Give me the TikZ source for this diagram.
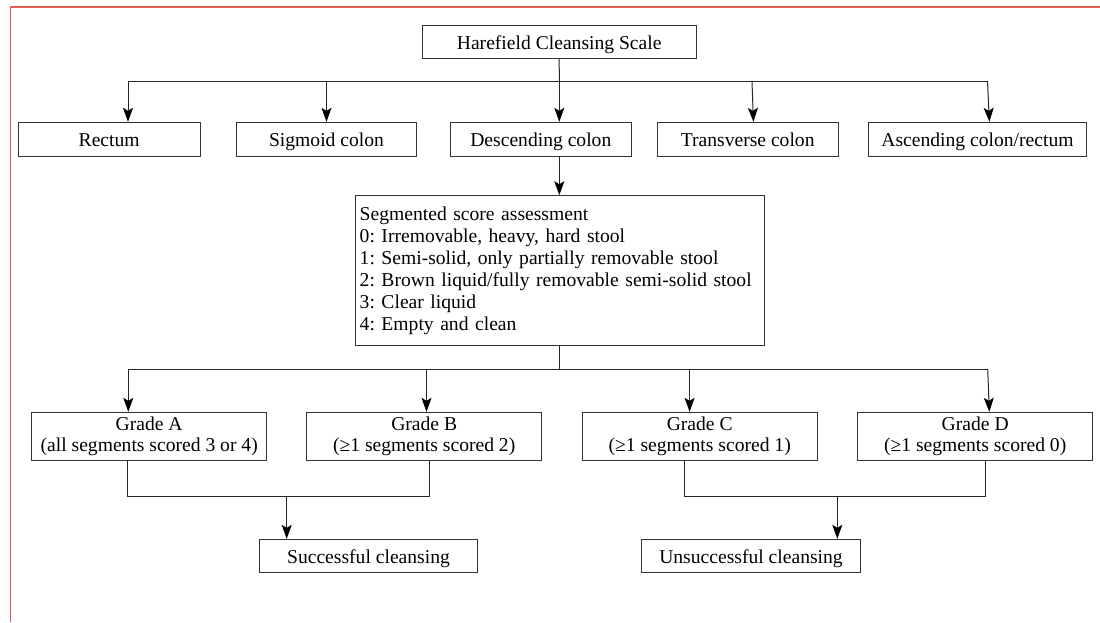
\documentclass[tikz,border=0pt]{standalone}
\usepackage{fontspec}
\setmainfont{Liberation Serif}
\usetikzlibrary{arrows.meta}

\definecolor{framered}{RGB}{228,90,84}

\begin{document}
\frenchspacing
\begin{tikzpicture}[x=0.75pt, y=-0.75pt,
        box/.style={draw=black!80, line width=0.75pt, fill=white, inner sep=0pt,
            minimum height=25.5pt, align=center, font=\fontsize{14.7}{16}\selectfont},
        single/.style={box, text height=14.5pt, text depth=3pt},
        wire/.style={draw=black!85, line width=0.75pt},
        arr/.style={wire, -{Stealth[length=10.5pt, width=7.5pt, inset=2.3pt, black]}}]
        \useasboundingbox (0,0) rectangle (1100,622);

        % Page frame
        \draw[framered, line width=0.8pt] (10.3,622) -- (10.3,7) -- (1100,7);

        % Title
        \node at (559.2, 41.8) (title) [single, minimum width=205.3pt, minimum height=24.75pt] {Harefield Cleansing Scale};

        % Colon segments
        \node at (109.2, 139.3) (rectum) [single, minimum width=136.3pt] {Rectum};
        \node at (326.5, 139.3) (sigmoid) [single, minimum width=134.3pt] {Sigmoid colon};
        \node at (540.8, 139.3) (descending) [single, minimum width=135.8pt] {Descending colon};
        \node at (747.7, 139.3) (transverse) [single, minimum width=136pt] {Transverse colon};
        \node at (977.5, 139.3) (ascending) [single, minimum width=163.8pt] {Ascending colon/rectum};

        % Score box
        \node at (559.7, 270.7) (segment) [box, align=left, text width=300pt, inner xsep=3.5pt, minimum height=112.5pt,
            font=\fontsize{14.7}{16.5}\selectfont]
            {Segmented score assessment\\
             0: Irremovable, heavy, hard stool\\
             1: Semi-solid, only partially removable stool\\
             2: Brown liquid/fully removable semi-solid stool\\
             3: Clear liquid\\
             4: Empty and clean};

        % Grades
        \node at (149.2, 436.3) (gradeA) [box, minimum width=176.3pt, minimum height=36pt] {Grade A\\(all segments scored 3 or 4)};
        \node at (424.2, 436.3) (gradeB) [box, minimum width=176.3pt, minimum height=36pt] {Grade B\\(≥1 segments scored 2)};
        \node at (699.7, 436.3) (gradeC) [box, minimum width=176.3pt, minimum height=36pt] {Grade C\\(≥1 segments scored 1)};
        \node at (975.2, 436.3) (gradeD) [box, minimum width=176.3pt, minimum height=36pt] {Grade D\\(≥1 segments scored 0)};

        % Outcomes
        \node at (368.5, 556) (success) [single, minimum width=163.8pt, minimum height=25pt] {Successful cleansing};
        \node at (751, 556) (failure) [single, minimum width=164pt, minimum height=25pt] {Unsuccessful cleansing};

        % Title to segments
        \coordinate (top) at (559.3, 81);
        \coordinate (topL) at (128, 81);
        \coordinate (topR) at (987.5, 81);
        \draw[wire] (title.south) -- (top);
        \draw[wire] (topL) -- (topR);
        \draw[arr] (topL) -- (topL |- rectum.north);
        \draw[arr] (sigmoid.north |- top) -- (sigmoid.north);
        \draw[arr] (top) -- (top |- descending.north);
        \draw[arr] ([xshift=3.2pt]transverse.north |- top) -- ([xshift=4.3pt]transverse.north);
        \draw[arr] (topR) -- ([xshift=8.9pt]ascending.north);

        % Descending colon to score box
        \draw[arr] (top |- descending.south) -- (top |- segment.north);

        % Score box to grades
        \coordinate (mid) at (559.3, 369);
        \coordinate (midL) at (128.3, 369);
        \coordinate (midB) at (426.5, 369);
        \coordinate (midC) at (689.6, 369);
        \coordinate (midR) at (987.7, 369);
        \draw[wire] (top |- segment.south) -- (mid);
        \draw[wire] (midL) -- (midR);
        \draw[arr] (midL) -- (midL |- gradeA.north);
        \draw[arr] (midB) -- (midB |- gradeB.north);
        \draw[arr] (midC) -- (midC |- gradeC.north);
        \draw[arr] (midR) -- ([xshift=10.6pt]gradeD.north);

        % Grades to outcomes
        \coordinate (jA) at (127.8, 496);
        \coordinate (jB) at (429.3, 496);
        \coordinate (jS) at (286.7, 496);
        \coordinate (jC) at (684.7, 496);
        \coordinate (jD) at (985, 496);
        \coordinate (jU) at (837.3, 496);
        \draw[wire] (jA |- gradeA.south) -- (jA) -- (jB) -- (jB |- gradeB.south);
        \draw[arr] (jS) -- (jS |- success.north);
        \draw[wire] (jC |- gradeC.south) -- (jC) -- (jD) -- (jD |- gradeD.south);
        \draw[arr] (jU) -- (jU |- failure.north);
    \end{tikzpicture}
\end{document}
